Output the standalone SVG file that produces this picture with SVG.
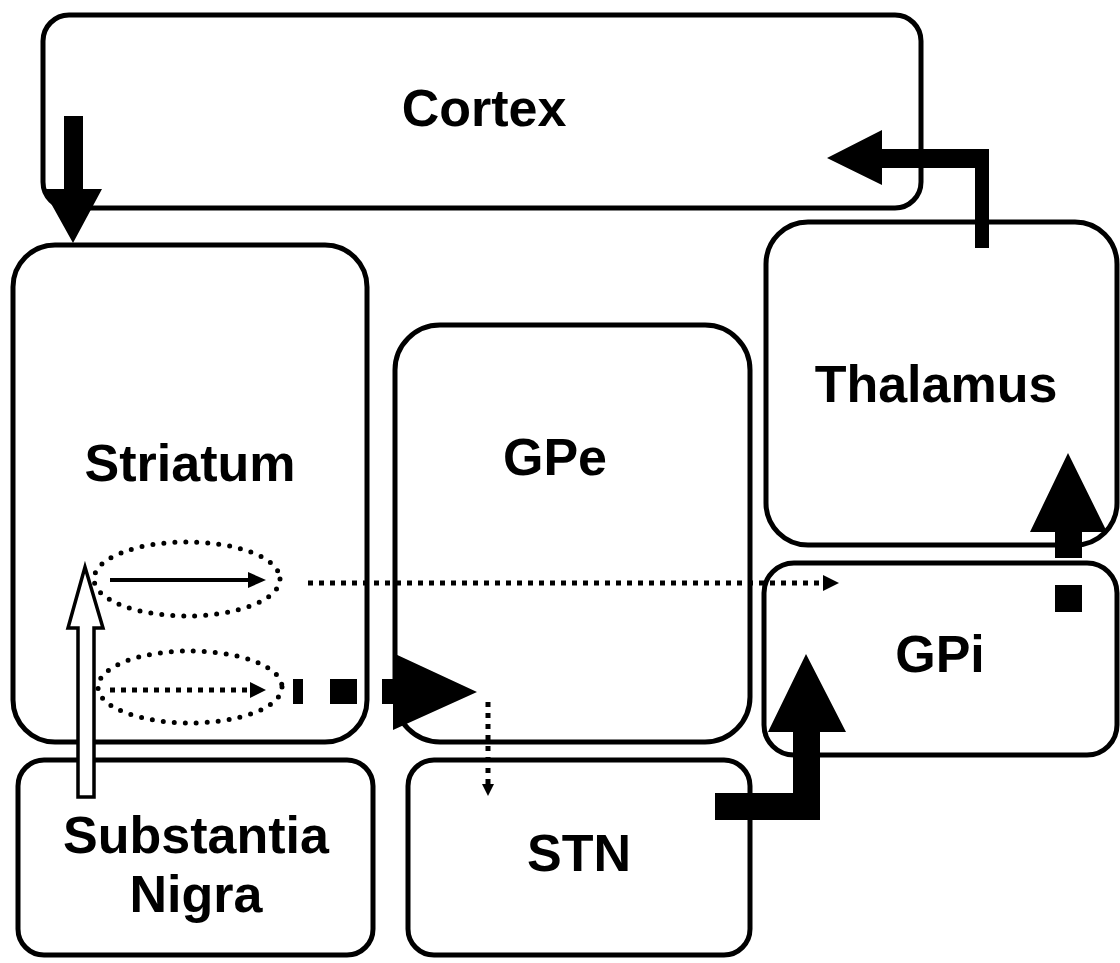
<svg xmlns="http://www.w3.org/2000/svg" width="1120" height="963" viewBox="0 0 1120 963">
<style>
.box{fill:none;stroke:#000;stroke-width:5}
.lbl{font-family:"Liberation Sans",Arial,sans-serif;font-weight:bold;font-size:52px;text-anchor:middle;fill:#000}
.blk{fill:#000;stroke:none}
.dots{fill:none;stroke:#000;stroke-width:5;stroke-dasharray:0 11;stroke-linecap:round}
.sq{fill:none;stroke:#000;stroke-width:5;stroke-dasharray:5 6}
</style>
<rect width="1120" height="963" fill="#fff"/>
<g id="cortex"><rect class="box" x="43" y="15" width="878" height="193" rx="26"/><text class="lbl" x="484" y="126">Cortex</text></g>
<g id="striatum"><rect class="box" x="13" y="245" width="354" height="497" rx="42"/><text class="lbl" x="190" y="481">Striatum</text>
<ellipse class="dots" cx="187" cy="579" rx="93" ry="37"/><ellipse class="dots" cx="190" cy="687" rx="92" ry="36"/></g>
<g id="gpe"><rect class="box" x="395" y="325" width="355" height="417" rx="45"/><text class="lbl" x="555" y="475">GPe</text></g>
<g id="thalamus"><rect class="box" x="766" y="222" width="351" height="323" rx="42"/><text class="lbl" x="936" y="402">Thalamus</text></g>
<g id="gpi"><rect class="box" x="764" y="563" width="353" height="192" rx="30"/><text class="lbl" x="940" y="672">GPi</text></g>
<g id="sn"><rect class="box" x="18" y="760" width="355" height="195" rx="26"/><text class="lbl" x="196" y="853">Substantia</text><text class="lbl" x="196" y="912">Nigra</text></g>
<g id="stn"><rect class="box" x="408" y="760" width="342" height="195" rx="26"/><text class="lbl" x="579" y="871">STN</text></g>
<g id="connectors">
<polygon class="blk" points="64,116 83,116 83,189 102,189 73,243 43,189 64,189"/>
<polygon class="blk" points="989,248 975,248 975,168 882,168 882,185 827,158 882,130 882,149 989,149"/>
<polygon class="blk" points="1055,558 1082,558 1082,532 1107,532 1068,453 1030,532 1055,532"/>
<rect class="blk" x="1055" y="585" width="27" height="27"/>
<polygon class="blk" points="715,793 793,793 793,732 768,732 806,654 846,732 820,732 820,820 715,820"/>
<rect class="blk" x="293" y="679" width="10" height="25"/>
<rect class="blk" x="330" y="679" width="27" height="25"/>
<polygon class="blk" points="382,679 393,679 393,653 477,692 393,730 393,704 382,704"/>
<line class="sq" x1="308" y1="583" x2="826" y2="583"/>
<polygon class="blk" points="823,575 839,583 823,591"/>
<line x1="110" y1="580" x2="250" y2="580" stroke="#000" stroke-width="4"/>
<polygon class="blk" points="248,572 266,580 248,588"/>
<line class="sq" x1="110" y1="690" x2="250" y2="690"/>
<polygon class="blk" points="250,682 266,690 250,698"/>
<line class="sq" x1="488" y1="702" x2="488" y2="785"/>
<polygon class="blk" points="482,784 488,796 494,784"/>
<polygon points="78,797 94,797 94,628 103,628 85,567 68,628 78,628" fill="#fff" stroke="#000" stroke-width="3.5"/>
</g>
</svg>
